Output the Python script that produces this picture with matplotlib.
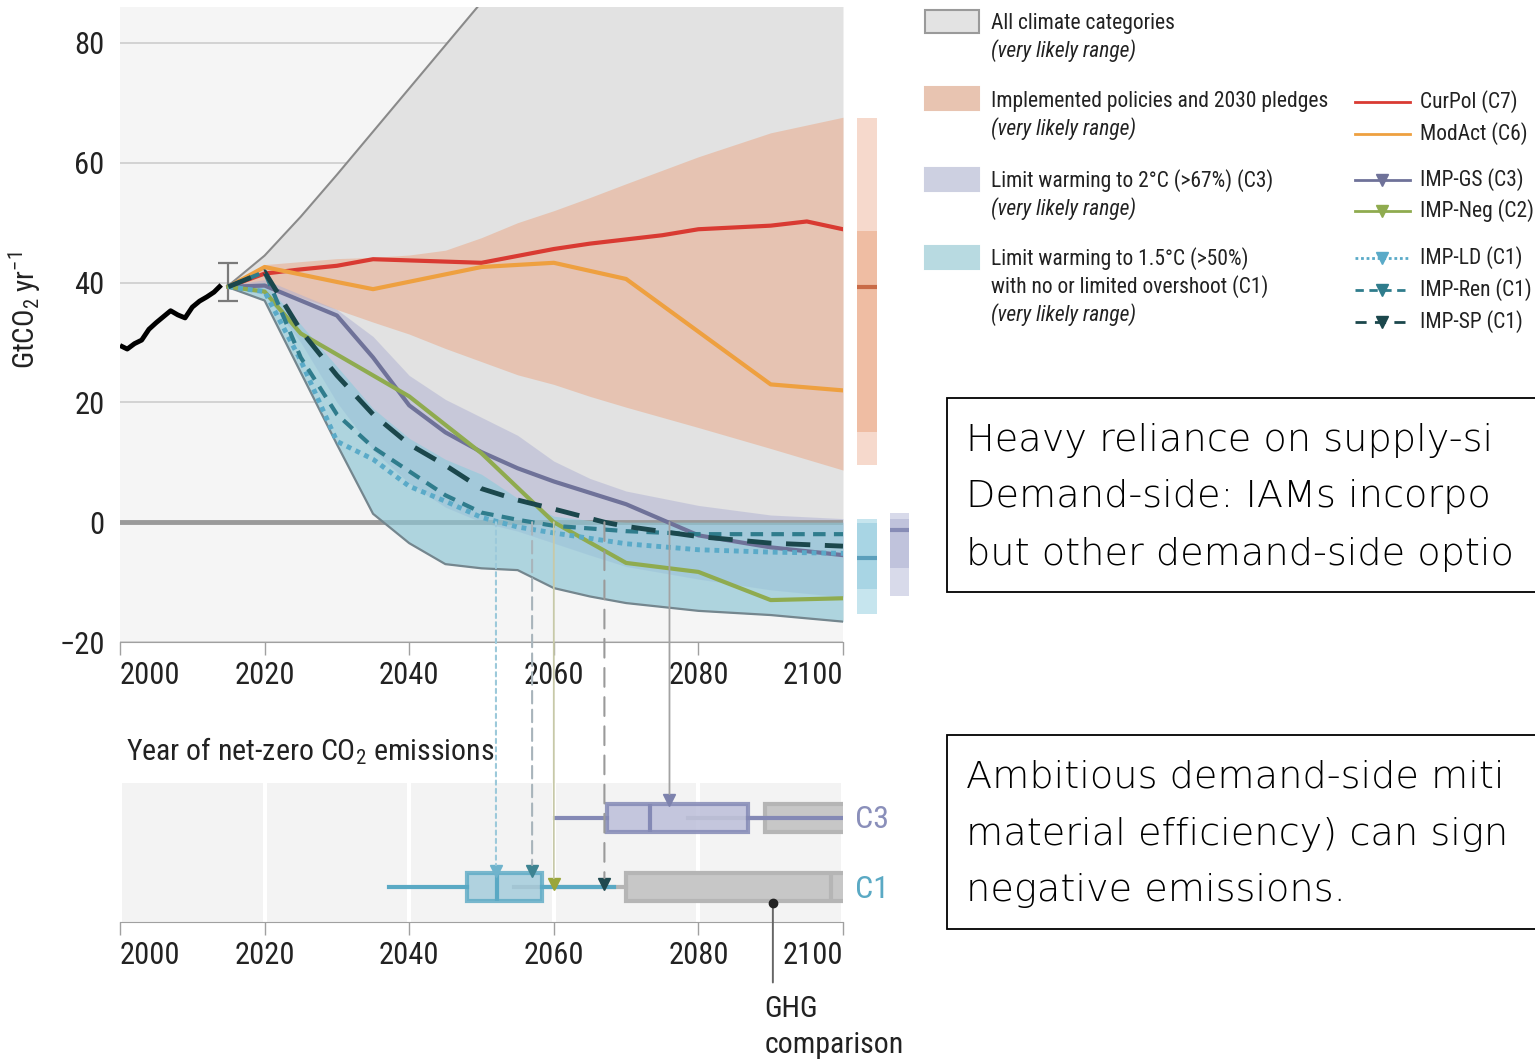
import numpy as np
import matplotlib
matplotlib.use("Agg")
import matplotlib.pyplot as plt
from matplotlib.patches import Rectangle, ConnectionPatch
from matplotlib import font_manager as fm

# ---------------- data ----------------
hist_years = list(range(2000, 2015))
hist_vals = [29.5, 28.9, 29.8, 30.4, 32.2, 33.3, 34.3, 35.3, 34.6, 34.1, 35.9, 36.9, 37.6, 38.4, 39.6]
hist_err_year = 2015
hist_err_mid = 40.0
hist_err_lo = 37.0
hist_err_hi = 43.2

env_years = [2015, 2020, 2025, 2030, 2035, 2040, 2045, 2050, 2055, 2060, 2065, 2070, 2080, 2090, 2100]
all_upper = [39.5, 44.5, 51.0, 58.0, 65.2, 72.4, 79.6, 86.8, 93.0, 99.0, 105.0, 110.0, 120.0, 130.0, 140.0]
all_lower = [39.2, 37.0, 25.0, 13.0, 1.4, -3.5, -7.0, -7.7, -8.0, -11.0, -12.4, -13.5, -14.8, -15.5, -16.6]
pol_upper = [39.5, 43.0, 43.5, 44.0, 44.2, 44.6, 45.4, 47.5, 50.0, 52.0, 54.2, 56.5, 61.0, 65.0, 67.6]
pol_lower = [39.3, 39.5, 37.5, 35.5, 33.4, 31.4, 29.0, 26.8, 24.6, 23.0, 21.0, 19.2, 15.8, 12.3, 8.7]
c3_upper = [39.5, 40.5, 38.0, 35.5, 31.0, 24.5, 20.5, 17.5, 14.5, 10.2, 7.3, 5.2, 2.8, 1.2, 0.6]
c3_lower = [39.2, 38.0, 30.0, 20.0, 12.0, 6.5, 2.5, 0.0, -1.5, -3.5, -5.5, -7.4, -9.5, -11.3, -12.5]
c1_upper = [39.5, 40.0, 33.0, 26.0, 19.0, 14.0, 10.5, 8.0, 4.0, 1.0, 0.3, 0.0, 0.0, 0.0, 0.0]
c1_lower = [39.2, 37.0, 25.0, 13.0, 1.4, -3.5, -7.0, -7.7, -8.0, -11.0, -12.4, -13.5, -14.8, -15.5, -16.6]

curpol_years = [2015, 2020, 2025, 2030, 2035, 2050, 2060, 2065, 2070, 2075, 2080, 2090, 2095, 2100]
curpol_vals = [39.3, 41.5, 42.2, 42.8, 43.9, 43.3, 45.6, 46.5, 47.2, 47.9, 48.9, 49.5, 50.2, 48.9]
modact_years = [2015, 2020, 2030, 2035, 2050, 2060, 2070, 2080, 2090, 2100]
modact_vals = [39.3, 42.6, 40.1, 38.9, 42.6, 43.3, 40.6, 31.8, 23.0, 22.0]
gs_years = [2015, 2020, 2025, 2030, 2035, 2040, 2045, 2050, 2055, 2060, 2070, 2080, 2090, 2100]
gs_vals = [39.3, 39.5, 37.0, 34.5, 27.5, 19.5, 15.0, 11.7, 9.0, 6.8, 3.0, -2.2, -4.2, -5.5]
neg_years = [2015, 2020, 2025, 2030, 2040, 2050, 2060, 2070, 2080, 2090, 2100]
neg_vals = [39.3, 38.5, 31.5, 28.0, 21.0, 11.5, 0.0, -6.8, -8.3, -13.0, -12.7]
ld_years = [2015, 2020, 2025, 2030, 2035, 2040, 2045, 2050, 2055, 2060, 2070, 2080, 2090, 2100]
ld_vals = [39.3, 38.5, 27.0, 13.5, 10.5, 6.0, 3.5, 0.8, -0.8, -1.8, -3.6, -4.6, -5.0, -5.2]
ren_years = [2015, 2020, 2025, 2030, 2035, 2040, 2045, 2050, 2055, 2060, 2070, 2080, 2090, 2100]
ren_vals = [39.3, 41.8, 27.5, 18.0, 12.5, 8.5, 4.5, 1.6, 0.4, -0.6, -1.5, -2.0, -2.0, -2.0]
sp_years = [2015, 2020, 2025, 2030, 2035, 2040, 2045, 2050, 2055, 2060, 2067, 2070, 2080, 2090, 2100]
sp_vals = [39.3, 41.8, 32.0, 24.5, 18.0, 13.0, 9.5, 5.6, 3.7, 2.2, 0.0, -0.7, -2.4, -3.5, -4.0]

# year of net zero for each IMP and its category row (1 = C1, 2 = C3)
nz_names = ["IMP-LD", "IMP-Ren", "IMP-Neg", "IMP-SP", "IMP-GS"]
nz_years = [2052, 2057, 2060, 2067, 2076]
nz_rows = [1, 1, 1, 1, 2]

# net-zero CO2 year distributions (box plots) and GHG comparison
c1_box = dict(whislo=2037.2, q1=2048.0, med=2052.2, q3=2058.4, whishi=2068.3)
c3_box = dict(whislo=2060.1, q1=2067.4, med=2073.3, q3=2086.9, whishi=2106.0)
c1_ghg = dict(whislo=2054.5, q1=2070.0, med=2098.4, q3=2106.0, whishi=2110.0)
c3_ghg = dict(whislo=2078.5, q1=2089.2, med=2106.0, q3=2110.0, whishi=2115.0)
ghg_dot_year = 2090.3

# 2100 ranges (side bars): light = very likely, dark = likely, median
pol_2100 = dict(lo=9.5, hi=67.4, lo2=15.1, hi2=48.6, med=39.2)
c1_2100 = dict(lo=-15.3, hi=0.6, lo2=-11.2, hi2=-0.1, med=-5.9)
c3_2100 = dict(lo=-12.3, hi=1.6, lo2=-7.7, hi2=0.6, med=-1.3)

xticks = [2000, 2020, 2040, 2060, 2080, 2100]
yticks = [-20, 0, 20, 40, 60, 80]

# ---------------- fonts ----------------
names = {f.name for f in fm.fontManager.ttflist}
COND = next((n for n in ["Liberation Sans Narrow", "Roboto Condensed", "Open Sans Condensed"] if n in names), "DejaVu Sans")
plt.rcParams["font.family"] = [COND, "DejaVu Sans"]
plt.rcParams["mathtext.fontset"] = "custom"
plt.rcParams["mathtext.rm"] = COND
plt.rcParams["mathtext.it"] = COND + ":italic"
TXT = "#222222"
TICK_FS = 22

W, H = 1535, 1062
fig = plt.figure(figsize=(W / 100, H / 100), dpi=100)
fig.patch.set_facecolor("white")

def fx(px):
    return px / W

def fy(py):
    return 1 - py / H

# ---------------- main axes ----------------
ax = fig.add_axes([fx(120), fy(642), (843 - 120) / W, (642 - 7) / H])
ax.set_facecolor("#f5f5f5")
ax.set_xlim(2000, 2100)
ax.set_ylim(-20, 86)
ax.set_axisbelow(True)
for s in ["top", "right", "left"]:
    ax.spines[s].set_visible(False)
ax.spines["bottom"].set_color("#a0a0a0")
ax.set_xticks(xticks)
ax.set_yticks(yticks)
ax.set_yticklabels(["\u221220" if v < 0 else str(v) for v in yticks])
ax.tick_params(axis="x", length=9, color="#a0a0a0", width=1, labelsize=TICK_FS, pad=5, labelcolor=TXT)
ax.tick_params(axis="y", length=0, labelsize=TICK_FS, pad=11, labelcolor=TXT)
lbls = ax.get_xticklabels()
lbls[0].set_ha("left")
lbls[-1].set_ha("right")
ax.grid(axis="y", color="#cdcdcd", lw=1.2)

ax.fill_between(env_years, all_lower, all_upper, color="#e2e2e2", lw=0, zorder=1)
ax.plot(env_years, all_upper, color="#8a8a8a", lw=1.5, zorder=1.1)
ax.fill_between(env_years, pol_lower, pol_upper, color="#eaa683", alpha=0.5, lw=0, zorder=1.2)
ax.fill_between(env_years, c3_lower, c3_upper, color="#aeb0d2", alpha=0.5, lw=0, zorder=1.3)
ax.axhline(0, color="#9a9a9a", lw=3.5, zorder=1.35)
ax.fill_between(env_years, c1_lower, c1_upper, color="#8ccbdc", alpha=0.6, lw=0, zorder=1.4)
ax.plot(env_years, c1_lower, color="#74868e", lw=1.6, zorder=1.5)

# historical
ax.plot(hist_years, hist_vals, color="black", lw=3.5, zorder=5, solid_capstyle="butt")
ax.errorbar([hist_err_year], [hist_err_mid], yerr=[[hist_err_mid - hist_err_lo], [hist_err_hi - hist_err_mid]],
            fmt="none", ecolor="#7a7a7a", elinewidth=1.6, capsize=7, capthick=1.6, zorder=5)

# scenario lines
ax.plot(curpol_years, curpol_vals, color="#d93a32", lw=3, zorder=6)
ax.plot(modact_years, modact_vals, color="#eea040", lw=3, zorder=6)
ax.plot(gs_years, gs_vals, color="#6f7299", lw=3, zorder=6)
ax.plot(neg_years, neg_vals, color="#8fab4f", lw=3, zorder=6)
ax.plot(ld_years, ld_vals, color="#5aaac8", lw=3.5, ls=(0, (1, 1)), zorder=6)
ax.plot(ren_years, ren_vals, color="#2f7c8c", lw=3, ls=(0, (3, 2)), zorder=6)
ax.plot(sp_years, sp_vals, color="#1b474c", lw=3.5, ls=(0, (5, 3)), zorder=6)

ax.set_ylabel("GtCO$_2$ yr$^{-1}$", fontsize=21, color=TXT)
ax.yaxis.set_label_coords((43 - 120) / 723, (642 - 310) / 635)

# side bars for 2100 ranges
def side_bar(x, w, d, light, dark, medc):
    b1 = ax.bar([x], [d["hi"] - d["lo"]], bottom=[d["lo"]], width=w, color=light, lw=0, zorder=3)
    b2 = ax.bar([x], [d["hi2"] - d["lo2"]], bottom=[d["lo2"]], width=w, color=dark, lw=0, zorder=3.1)
    for p in list(b1) + list(b2):
        p.set_clip_on(False)
    ax.hlines([d["med"]], x - w / 2, x + w / 2, color=medc, lw=3, zorder=3.2, clip_on=False)

side_bar(2103.3, 2.8, pol_2100, "#f6d9cc", "#efbda3", "#c96b47")
side_bar(2103.3, 2.8, c1_2100, "#c6e5ee", "#a8d5e4", "#5b9fbb")
side_bar(2107.8, 2.7, c3_2100, "#d8daea", "#c0c3dc", "#878cb6")

# ---------------- bottom axes (net-zero year) ----------------
ax2 = fig.add_axes([fx(120), fy(922), (843 - 120) / W, (922 - 783) / H])
ax2.set_facecolor("#f3f3f3")
ax2.set_xlim(2000, 2100)
ax2.set_ylim(0.5, 2.5)
for s in ["top", "right", "left"]:
    ax2.spines[s].set_visible(False)
ax2.spines["bottom"].set_color("#a0a0a0")
ax2.set_yticks([])
ax2.set_xticks(xticks)
ax2.tick_params(axis="x", length=9, color="#a0a0a0", width=1, labelsize=TICK_FS, pad=5, labelcolor=TXT)
l2 = ax2.get_xticklabels()
l2[0].set_ha("left")
l2[-1].set_ha("right")
ax2.grid(axis="x", color="white", lw=3)
ax2.set_axisbelow(True)

def draw_box(stats, pos, face, edge, lw, alpha, z):
    st = dict(stats)
    st["fliers"] = []
    kw = dict(positions=[pos], widths=0.4, patch_artist=True, showcaps=False, showfliers=False,
              boxprops=dict(facecolor=face, edgecolor=edge, lw=lw, alpha=alpha),
              medianprops=dict(color=edge, lw=lw), whiskerprops=dict(color=edge, lw=lw), manage_ticks=False,
              zorder=z)
    try:
        ax2.bxp([st], orientation="horizontal", **kw)
    except TypeError:
        ax2.bxp([st], vert=False, **kw)

draw_box(c1_ghg, 1, "#c7c7c7", "#b5b5b5", 3, 1, 2)
draw_box(c3_ghg, 2, "#c7c7c7", "#b5b5b5", 3, 1, 2)
draw_box(c1_box, 1, "#9fcadb", "#5aa9c4", 3, 0.8, 3)
draw_box(c3_box, 2, "#bcbfda", "#8489b5", 3, 0.85, 3)

ax2.text(2101.6, 1.97, "C3", color="#8a8fba", fontsize=23, va="center", ha="left", clip_on=False)
ax2.text(2101.6, 0.97, "C1", color="#5aa9c4", fontsize=23, va="center", ha="left", clip_on=False)

# GHG comparison annotation
ax2.plot([ghg_dot_year], [0.78], "o", color="#222222", ms=6, clip_on=False, zorder=6)
ax2.annotate("", xy=(ghg_dot_year, 0.78), xytext=(ghg_dot_year, -0.41),
             arrowprops=dict(arrowstyle="-", color="#666666", lw=1.4), annotation_clip=False)
ax2.text(ghg_dot_year - 1.2, -0.55, "GHG\ncomparison", fontsize=21.5, va="top", ha="left",
         color=TXT, linespacing=1.35, clip_on=False)

fig.text(fx(126), fy(751), "Year of net-zero CO$_2$ emissions", fontsize=21.5, va="center", ha="left", color=TXT)

# net-zero connectors
nz_style = {
    "IMP-LD": dict(color="#9cc9da", ls=(0, (2, 2)), lw=1.5, mk="#6fb3cc"),
    "IMP-Ren": dict(color="#a8b4bb", ls=(0, (6, 3)), lw=1.5, mk="#3d8391"),
    "IMP-Neg": dict(color="#c7c9a8", ls="-", lw=1.3, mk="#9aa63a"),
    "IMP-SP": dict(color="#9a9a9a", ls=(0, (9, 5)), lw=1.5, mk="#1f4a50"),
    "IMP-GS": dict(color="#a3a3a3", ls="-", lw=1.3, mk="#7d82ad"),
}
nz_marker_y = {"IMP-LD": 1.24, "IMP-Ren": 1.24, "IMP-Neg": 1.05, "IMP-SP": 1.05, "IMP-GS": 2.26}
for name, yr, row in zip(nz_names, nz_years, nz_rows):
    s = nz_style[name]
    my = nz_marker_y[name]
    con = ConnectionPatch(xyA=(yr, 0), coordsA=ax.transData, xyB=(yr, my + 0.08), coordsB=ax2.transData,
                          color=s["color"], ls=s["ls"], lw=s["lw"], zorder=4)
    fig.add_artist(con)
    ax2.plot([yr], [my], marker="v", color=s["mk"], ms=8, ls="none", zorder=7, clip_on=False)

# ---------------- legend + text boxes (overlay) ----------------
ov = fig.add_axes([0, 0, 1, 1], zorder=10)
ov.set_xlim(0, W)
ov.set_ylim(H, 0)
ov.axis("off")
ov.patch.set_alpha(0)

LEG_FS = 15.5
leg_patches = [
    ("#e3e3e3", "#9a9a9a", 10, ["All climate categories"], "(very likely range)", [23]),
    ("#e8c4b1", None, 87, ["Implemented policies and 2030 pledges"], "(very likely range)", [101]),
    ("#cdd0e1", None, 168, ["Limit warming to 2\u00b0C (>67%) (C3)"], "(very likely range)", [181]),
    ("#b8dae1", None, 246, ["Limit warming to 1.5\u00b0C (>50%)", "with no or limited overshoot (C1)"],
     "(very likely range)", [259, 287]),
]
for face, edge, ytop, lines, itl, ys in leg_patches:
    ov.add_patch(Rectangle((925, ytop), 54, 23, facecolor=face,
                           edgecolor=edge if edge else face, lw=1.5))
    for t, yy in zip(lines, ys):
        ov.text(991, yy, t, fontsize=LEG_FS, va="center", ha="left", color=TXT)
    ov.text(991, ys[-1] + 28, itl, fontsize=LEG_FS, va="center", ha="left", color=TXT, style="italic")

leg_lines = [
    ("CurPol (C7)", "#d93a32", "-", None, 102),
    ("ModAct (C6)", "#eea040", "-", None, 134),
    ("IMP-GS (C3)", "#6f7299", "-", "v", 180),
    ("IMP-Neg (C2)", "#8fab4f", "-", "v", 211),
    ("IMP-LD (C1)", "#5aaac8", (0, (1, 1)), "v", 258),
    ("IMP-Ren (C1)", "#2f7c8c", (0, (3, 2)), "v", 290),
    ("IMP-SP (C1)", "#1b474c", (0, (4, 3)), "v", 322),
]
for lab, col, ls, mk, yy in leg_lines:
    ov.plot([1355, 1410], [yy, yy], color=col, ls=ls, lw=2)
    if mk:
        ov.plot([1382], [yy], marker=mk, color=col, ms=9)
    ov.text(1420, yy, lab, fontsize=LEG_FS, va="center", ha="left", color=TXT)

box_texts = [
    (398, 194, ["Heavy reliance on supply-si", "Demand-side: IAMs incorpo", "but other demand-side optio"]),
    (735, 194, ["Ambitious demand-side miti", "material efficiency) can sign", "negative emissions."]),
]
for ytop, hgt, lines in box_texts:
    ov.add_patch(Rectangle((947, ytop), 700, hgt, facecolor="white", edgecolor="black", lw=1.3))
    for i, t in enumerate(lines):
        ov.text(966, ytop + 42 + 57 * i, t, fontsize=27.5, va="center", ha="left", color="black",
                family="DejaVu Sans", fontweight="light")

fig.savefig("out.png", dpi=100, facecolor="white")
